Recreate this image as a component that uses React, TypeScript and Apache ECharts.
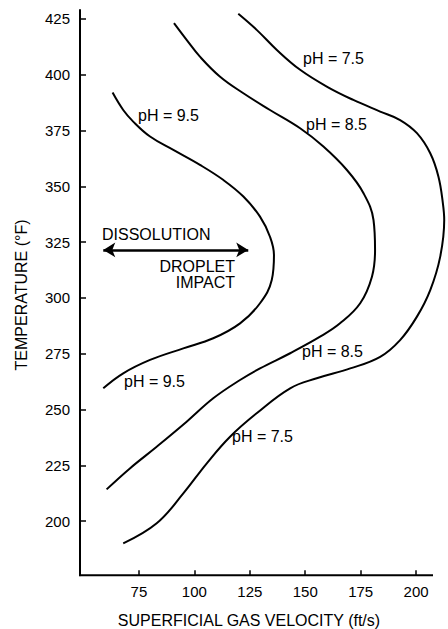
import React, { useEffect, useRef } from "react";
import * as echarts from "echarts";

// Curve data: [superficial gas velocity (ft/s), temperature (°F)]
const ph95: number[][] = [
  [63.1, 392.0], [67.9, 384.2], [72.4, 379.0], [80.0, 372.3], [90.5, 366.3],
  [102.5, 359.6], [113.1, 352.8], [122.1, 345.4], [129.6, 336.4], [134.1, 327.4],
  [135.9, 319.2], [134.9, 308.0], [129.6, 297.6], [120.6, 288.6], [108.5, 281.9],
  [95.0, 277.4], [80.0, 272.2], [67.9, 266.2], [58.9, 259.5],
];
const ph85: number[][] = [
  [90.8, 423.1], [96.5, 415.6], [102.5, 408.1], [111.6, 399.1], [122.1, 391.7],
  [134.1, 384.2], [147.7, 376.0], [158.2, 367.8], [168.8, 357.3], [176.3, 346.9],
  [180.8, 334.9], [181.5, 321.5], [180.1, 309.5], [174.8, 297.6], [165.7, 288.6],
  [156.7, 282.6], [143.2, 275.2], [129.6, 268.4], [120.6, 263.2], [108.5, 255.0],
  [96.5, 244.5], [83.0, 233.3], [70.9, 223.6], [60.4, 214.2],
];
const ph75: number[][] = [
  [119.8, 427.3], [128.1, 420.1], [137.2, 411.1], [147.7, 402.2], [159.7, 394.7],
  [171.7, 388.7], [183.8, 383.5], [192.8, 379.7], [200.4, 373.8], [206.4, 364.8],
  [210.1, 354.3], [212.1, 342.4], [212.7, 334.9], [210.9, 318.5], [206.4, 303.5],
  [200.4, 291.6], [192.8, 281.1], [183.8, 273.6], [170.3, 268.4], [155.2, 264.0],
  [143.2, 259.5], [128.1, 248.3], [116.1, 237.8], [105.6, 225.9], [95.0, 212.4],
  [83.0, 199.0], [67.9, 190.0],
];
const xTicks: number[] = [75, 100, 125, 150, 175, 200];
const yTicks: number[] = [200, 225, 250, 275, 300, 325, 350, 375, 400, 425];
const arrowFrom: number[] = [58.9, 321.5];
const arrowTo: number[] = [124.3, 321.5];

const FONT = '"Liberation Sans", Arial, Helvetica, sans-serif';

export default function App() {
  const ref = useRef<HTMLDivElement>(null);
  useEffect(() => {
    if (!ref.current) return;
    const chart = echarts.init(ref.current, null, { renderer: "svg" });
    const lineStyle = { color: "#000", width: 2 };
    const curve = (name: string, data: number[][]) => ({
      name,
      type: "line",
      data,
      smooth: 0.4,
      showSymbol: false,
      symbol: "none",
      clip: false,
      lineStyle,
      silent: true,
    });
    const txt = (text: string, x: number, y: number, align = "left") => ({
      type: "text",
      x,
      y,
      style: {
        text,
        fill: "#000",
        font: `16px ${FONT}`,
        textAlign: align,
        textVerticalAlign: "middle",
      },
    });
    chart.setOption({
      animation: false,
      backgroundColor: "#fff",
      // x axis extends to 214 so the pH 7.5 bulge is not clipped; the drawn axis line stops at ~207.5
      grid: { left: 80, top: 10, right: 0.9, bottom: 53.7, containLabel: false },
      xAxis: {
        type: "value",
        min: 48.4,
        max: 214,
        axisLine: { show: false },
        axisTick: {
          show: true,
          inside: true,
          length: 5,
          customValues: xTicks,
          lineStyle: { color: "#000", width: 1.5 },
        },
        axisLabel: {
          customValues: xTicks,
          color: "#000",
          fontSize: 15,
          fontFamily: FONT,
          margin: 9,
        },
        splitLine: { show: false },
      },
      yAxis: {
        type: "value",
        min: 175.7,
        max: 429,
        axisLine: { show: true, lineStyle: { color: "#000", width: 2 } },
        axisTick: {
          show: true,
          inside: true,
          length: 6,
          customValues: yTicks,
          lineStyle: { color: "#000", width: 1.5 },
        },
        axisLabel: {
          customValues: yTicks,
          color: "#000",
          fontSize: 15,
          fontFamily: FONT,
          margin: 10,
        },
        splitLine: { show: false },
      },
      series: [
        curve("pH = 9.5", ph95),
        curve("pH = 8.5", ph85),
        {
          ...curve("pH = 7.5", ph75),
          markLine: {
            silent: true,
            symbol: ["arrow", "arrow"],
            symbolSize: [11, 12],
            label: { show: false },
            lineStyle: { color: "#000", width: 2.5, type: "solid" },
            data: [[{ coord: arrowFrom }, { coord: arrowTo }]],
          },
        },
      ],
      graphic: [
        {
          type: "line",
          shape: { x1: 79, y1: 575.3, x2: 433, y2: 575.3 },
          style: { stroke: "#000", lineWidth: 2 },
        },
        txt("pH = 7.5", 303, 58),
        txt("pH = 8.5", 306, 124),
        txt("pH = 9.5", 138, 115),
        txt("DISSOLUTION", 102, 234),
        txt("DROPLET", 235, 266, "right"),
        txt("IMPACT", 235, 282, "right"),
        txt("pH = 9.5", 124, 381),
        txt("pH = 8.5", 302, 351),
        txt("pH = 7.5", 232, 436),
        txt("SUPERFICIAL GAS VELOCITY (ft/s)", 249, 620, "center"),
        {
          type: "text",
          x: 21,
          y: 295,
          rotation: Math.PI / 2,
          style: {
            text: "TEMPERATURE (°F)",
            fill: "#000",
            font: `16px ${FONT}`,
            textAlign: "center",
            textVerticalAlign: "middle",
          },
        },
      ],
    });
    return () => chart.dispose();
  }, []);
  return (
    <div
      ref={ref}
      style={{ position: "fixed", left: 0, top: 0, width: 448, height: 629, background: "#fff" }}
    />
  );
}
